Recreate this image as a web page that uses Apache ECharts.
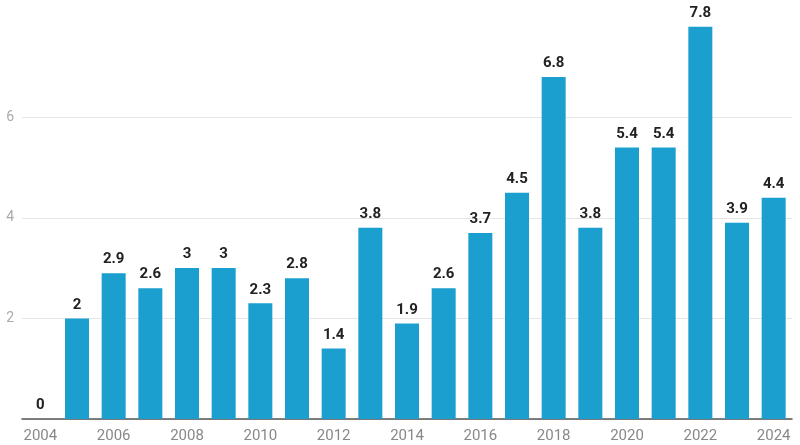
<!DOCTYPE html>
<html><head><meta charset="utf-8">
<script src="https://cdn.jsdelivr.net/npm/echarts@6/dist/echarts.min.js"></script>
<style>html,body{margin:0;padding:0;background:#fff;}#c{width:800px;height:445px;}</style>
</head><body><div id="c"></div>
<script>
const years = ['2004','2005','2006','2007','2008','2009','2010','2011','2012','2013','2014','2015','2016','2017','2018','2019','2020','2021','2022','2023','2024'];
const values = [0,2,2.9,2.6,3,3,2.3,2.8,1.4,3.8,1.9,2.6,3.7,4.5,6.8,3.8,5.4,5.4,7.8,3.9,4.4];
const chart = echarts.init(document.getElementById('c'));
chart.setOption({
  animation:false,
  textStyle:{fontFamily:'Roboto'},
  grid:{left:22,right:8,top:16.6,bottom:26},
  xAxis:{type:'category',data:years,
    axisLine:{lineStyle:{color:'#555',width:1.5}},axisTick:{show:false},
    axisLabel:{interval:1,color:'#888',fontSize:15,margin:10,fontFamily:'Roboto'}},
  yAxis:{type:'value',min:0,max:8,interval:2,
    axisLine:{show:false},axisTick:{show:false},
    splitLine:{showMaxLine:false,lineStyle:{color:['#e6e6e6','#e6e6e6','#e6e6e6','#e6e6e6','#ffffff']}},
    axisLabel:{showMinLabel:false,showMaxLabel:false,color:'#aaa',fontSize:14,margin:8,fontFamily:'Roboto'}},
  series:[{type:'bar',data:values,barWidth:24,itemStyle:{color:'#1a9fcf'},
    label:{show:true,position:'top',color:'#222',fontWeight:'bold',fontSize:15,distance:6,fontFamily:'Roboto'}}]
});
</script></body></html>
